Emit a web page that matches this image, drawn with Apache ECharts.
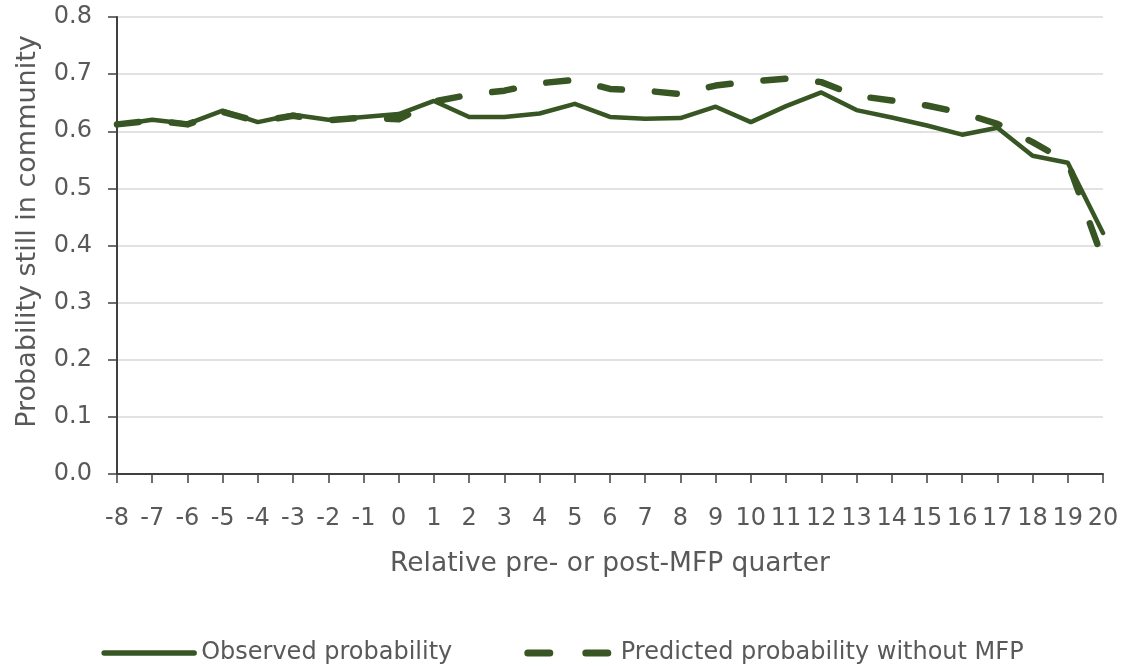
<!DOCTYPE html>
<html><head><meta charset="utf-8">
<script src="https://cdn.jsdelivr.net/npm/echarts@6/dist/echarts.min.js"></script>
<style>html,body{margin:0;padding:0;background:#fff}#c{width:1125px;height:669px}</style>
</head><body><div id="c"></div>
<script>
const categories = ['-8','-7','-6','-5','-4','-3','-2','-1','0','1','2','3','4','5','6','7','8','9','10','11','12','13','14','15','16','17','18','19','20'];
const observed = [0.611,0.620,0.613,0.636,0.616,0.629,0.620,0.625,0.630,0.653,0.625,0.625,0.631,0.648,0.625,0.622,0.623,0.643,0.616,0.644,0.668,0.637,0.624,0.610,0.594,0.606,0.557,0.545,0.422];
const predicted = [0.612,0.619,0.612,0.634,0.617,0.627,0.619,0.624,0.621,0.652,0.664,0.671,0.684,0.690,0.674,0.671,0.665,0.680,0.687,0.692,0.686,0.662,0.654,0.645,0.632,0.613,0.581,0.546,0.375];
const seriesNames = ['Observed probability','Predicted probability without MFP'];
const yTicks = {min:0, max:0.8, interval:0.1};
const green = '#375623';
const grey = '#595959';
const font = 'DejaVu Sans';
const chart = echarts.init(document.getElementById('c'));
chart.setOption({
  animation:false,
  textStyle:{fontFamily:font},
  grid:{left:117,right:22,top:17,bottom:195},
  legend:{top:636,left:'center',itemWidth:90,itemHeight:14,itemGap:68,
    itemStyle:{opacity:0},
    textStyle:{fontSize:24,color:grey,fontFamily:font,padding:[0,0,0,2]},
    data:[
      {name:seriesNames[0],lineStyle:{width:5.5,type:'solid',color:green,cap:'round'}},
      {name:seriesNames[1],lineStyle:{width:7,type:[22,36],color:green,cap:'round',dashOffset:-4}}
    ]},
  xAxis:{type:'category',data:categories,boundaryGap:false,
    name:'Relative pre- or post-MFP quarter',nameLocation:'middle',nameGap:77,
    nameTextStyle:{fontSize:26.5,color:grey,fontFamily:font},
    axisLine:{lineStyle:{color:'#404040',width:2}},
    axisTick:{show:true,interval:0,length:9,lineStyle:{color:'#404040',width:1.5}},
    axisLabel:{interval:0,fontSize:24,color:grey,margin:33,fontFamily:font}},
  yAxis:{type:'value',min:yTicks.min,max:yTicks.max,interval:yTicks.interval,
    name:'Probability still in community',nameLocation:'middle',nameGap:76,
    nameTextStyle:{fontSize:27,color:grey,fontFamily:font,padding:[0,0,0,28]},
    axisLine:{show:true,lineStyle:{color:'#404040',width:2}},
    axisTick:{show:true,length:9,lineStyle:{color:'#404040',width:1.5}},
    axisLabel:{fontSize:24,color:grey,margin:25,fontFamily:font,formatter:v=>v.toFixed(1)},
    splitLine:{lineStyle:{color:'#d9d9d9',width:1.5}}},
  series:[
    {name:seriesNames[0],type:'line',data:observed,symbol:'none',
      lineStyle:{color:green,width:4.5,cap:'round',join:'round'},itemStyle:{color:green}},
    {name:seriesNames[1],type:'line',data:predicted,symbol:'none',
      lineStyle:{color:green,width:6.5,type:[22,33],cap:'round',join:'round'},itemStyle:{color:green}}
  ]
});
</script></body></html>
